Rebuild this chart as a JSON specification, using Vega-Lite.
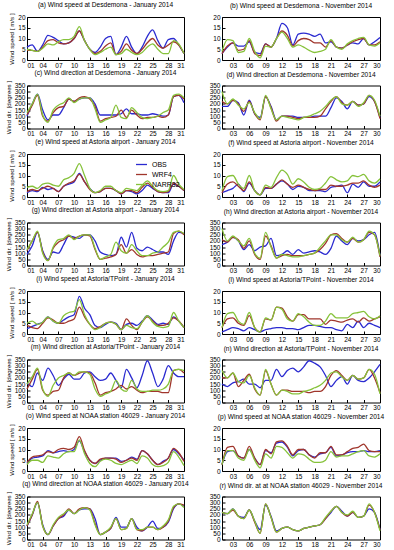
{
"$schema": "https://vega.github.io/schema/vega-lite/v6.json",
"padding": {"left": 4, "top": 1, "right": 6, "bottom": 1},
"columns": 2,
"bounds": "flush",
"align": "all",
"spacing": {"row": 25.5, "column": 37},
"resolve": {"scale": {"color": "independent"}},
"config": {
 "font": "Liberation Sans",
 "view": {"stroke": "black", "strokeWidth": 1},
 "axis": {"grid": false, "domain": false, "labelFontSize": 6.5, "labelColor": "black", "tickColor": "black", "tickSize": -3, "titleFontSize": 6.2, "titleFontWeight": "normal", "titleColor": "black", "labelPadding": 5, "titlePadding": 3, "labelOverlap": false},
 "title": {"fontSize": 6.6, "fontWeight": "normal", "offset": 0, "color": "black", "anchor": "middle", "frame": "group"},
 "line": {"strokeWidth": 1.3, "interpolate": "monotone"},
 "legend": {"labelFontSize": 7, "labelColor": "black"}
},
"datasets": {
"a": [
{"d":1,"OBS":6,"WRF4":4.5,"NARR32":5},{"d":2,"OBS":7,"WRF4":4.5,"NARR32":4.5},{"d":3,"OBS":4,"WRF4":4,"NARR32":4},{"d":4,"OBS":7,"WRF4":6,"NARR32":5.5},{"d":5,"OBS":11.5,"WRF4":9,"NARR32":7.5},{"d":6,"OBS":10.5,"WRF4":9.5,"NARR32":7},{"d":7,"OBS":9,"WRF4":8,"NARR32":8.5},{"d":8,"OBS":7.5,"WRF4":7.5,"NARR32":9.5},{"d":9,"OBS":8,"WRF4":8,"NARR32":9.5},{"d":10,"OBS":10,"WRF4":10,"NARR32":11},{"d":11,"OBS":13.5,"WRF4":13.5,"NARR32":15.5},{"d":12,"OBS":9,"WRF4":9,"NARR32":9},{"d":13,"OBS":5,"WRF4":5,"NARR32":5},{"d":14,"OBS":3.5,"WRF4":3,"NARR32":2.5},{"d":15,"OBS":6,"WRF4":4,"NARR32":3.5},{"d":16,"OBS":10,"WRF4":6.5,"NARR32":5},{"d":17,"OBS":11,"WRF4":8,"NARR32":6},{"d":18,"OBS":2.5,"WRF4":2.5,"NARR32":2.5},{"d":19,"OBS":6,"WRF4":4,"NARR32":3},{"d":20,"OBS":11,"WRF4":7.5,"NARR32":5},{"d":21,"OBS":6,"WRF4":4.5,"NARR32":3.5},{"d":22,"OBS":3,"WRF4":3,"NARR32":2.5},{"d":23,"OBS":6,"WRF4":5,"NARR32":3.5},{"d":24,"OBS":11,"WRF4":8,"NARR32":6},{"d":25,"OBS":14,"WRF4":10,"NARR32":7.5},{"d":26,"OBS":9,"WRF4":7,"NARR32":5},{"d":27,"OBS":5.5,"WRF4":5.5,"NARR32":3},{"d":28,"OBS":9.5,"WRF4":7,"NARR32":3},{"d":29,"OBS":10,"WRF4":8.5,"NARR32":9},{"d":30,"OBS":7,"WRF4":7,"NARR32":7.5},{"d":31,"OBS":3,"WRF4":3,"NARR32":3}
],
"b": [
{"d":1,"OBS":3,"WRF4":3,"NARR32":4},{"d":2,"OBS":6,"WRF4":6.5,"NARR32":9.5},{"d":3,"OBS":8,"WRF4":8,"NARR32":9},{"d":4,"OBS":6.5,"WRF4":4.5,"NARR32":3.5},{"d":5,"OBS":6.5,"WRF4":5,"NARR32":4},{"d":6,"OBS":8.5,"WRF4":9,"NARR32":10},{"d":7,"OBS":3.5,"WRF4":3,"NARR32":4},{"d":8,"OBS":3,"WRF4":2,"NARR32":1},{"d":9,"OBS":7.5,"WRF4":7.5,"NARR32":6.5},{"d":10,"OBS":6,"WRF4":6,"NARR32":6},{"d":11,"OBS":10,"WRF4":10,"NARR32":10},{"d":12,"OBS":17,"WRF4":13.5,"NARR32":13},{"d":13,"OBS":15,"WRF4":11.5,"NARR32":10},{"d":14,"OBS":7,"WRF4":6.5,"NARR32":6},{"d":15,"OBS":12,"WRF4":9,"NARR32":7},{"d":16,"OBS":12.5,"WRF4":10,"NARR32":6},{"d":17,"OBS":12,"WRF4":9.5,"NARR32":4.5},{"d":18,"OBS":11,"WRF4":8,"NARR32":3.5},{"d":19,"OBS":12,"WRF4":8,"NARR32":4},{"d":20,"OBS":8,"WRF4":6,"NARR32":5},{"d":21,"OBS":8.5,"WRF4":9,"NARR32":9.5},{"d":22,"OBS":6,"WRF4":6,"NARR32":6},{"d":23,"OBS":5.5,"WRF4":5.5,"NARR32":5},{"d":24,"OBS":7,"WRF4":7,"NARR32":7.5},{"d":25,"OBS":8,"WRF4":8.5,"NARR32":9},{"d":26,"OBS":7.5,"WRF4":9.5,"NARR32":10},{"d":27,"OBS":10,"WRF4":10,"NARR32":10.5},{"d":28,"OBS":7,"WRF4":7,"NARR32":7},{"d":29,"OBS":8.5,"WRF4":7,"NARR32":6.5},{"d":30,"OBS":10.5,"WRF4":8.5,"NARR32":8}
],
"c": [
{"d":1,"OBS":100,"WRF4":110,"NARR32":130},{"d":2,"OBS":200,"WRF4":190,"NARR32":200},{"d":3,"OBS":280,"WRF4":270,"NARR32":280},{"d":4,"OBS":150,"WRF4":100,"NARR32":110},{"d":5,"OBS":70,"WRF4":60,"NARR32":50},{"d":6,"OBS":110,"WRF4":130,"NARR32":150},{"d":7,"OBS":110,"WRF4":170,"NARR32":190},{"d":8,"OBS":170,"WRF4":180,"NARR32":210},{"d":9,"OBS":240,"WRF4":240,"NARR32":250},{"d":10,"OBS":220,"WRF4":220,"NARR32":210},{"d":11,"OBS":240,"WRF4":250,"NARR32":240},{"d":12,"OBS":250,"WRF4":260,"NARR32":250},{"d":13,"OBS":250,"WRF4":240,"NARR32":250},{"d":14,"OBS":200,"WRF4":180,"NARR32":160},{"d":15,"OBS":110,"WRF4":60,"NARR32":50},{"d":16,"OBS":110,"WRF4":80,"NARR32":70},{"d":17,"OBS":110,"WRF4":90,"NARR32":90},{"d":18,"OBS":110,"WRF4":100,"NARR32":190},{"d":19,"OBS":120,"WRF4":150,"NARR32":90},{"d":20,"OBS":160,"WRF4":90,"NARR32":80},{"d":21,"OBS":120,"WRF4":150,"NARR32":170},{"d":22,"OBS":120,"WRF4":110,"NARR32":130},{"d":23,"OBS":110,"WRF4":80,"NARR32":90},{"d":24,"OBS":110,"WRF4":90,"NARR32":80},{"d":25,"OBS":120,"WRF4":90,"NARR32":90},{"d":26,"OBS":110,"WRF4":100,"NARR32":100},{"d":27,"OBS":100,"WRF4":90,"NARR32":130},{"d":28,"OBS":110,"WRF4":110,"NARR32":150},{"d":29,"OBS":260,"WRF4":260,"NARR32":270},{"d":30,"OBS":270,"WRF4":270,"NARR32":280},{"d":31,"OBS":210,"WRF4":240,"NARR32":250}
],
"d": [
{"d":1,"OBS":180,"WRF4":220,"NARR32":300},{"d":2,"OBS":180,"WRF4":200,"NARR32":200},{"d":3,"OBS":230,"WRF4":230,"NARR32":240},{"d":4,"OBS":210,"WRF4":200,"NARR32":190},{"d":5,"OBS":110,"WRF4":140,"NARR32":160},{"d":6,"OBS":230,"WRF4":220,"NARR32":210},{"d":7,"OBS":120,"WRF4":120,"NARR32":130},{"d":8,"OBS":90,"WRF4":70,"NARR32":80},{"d":9,"OBS":260,"WRF4":260,"NARR32":270},{"d":10,"OBS":180,"WRF4":170,"NARR32":160},{"d":11,"OBS":70,"WRF4":60,"NARR32":70},{"d":12,"OBS":100,"WRF4":100,"NARR32":100},{"d":13,"OBS":100,"WRF4":100,"NARR32":90},{"d":14,"OBS":100,"WRF4":90,"NARR32":80},{"d":15,"OBS":90,"WRF4":80,"NARR32":70},{"d":16,"OBS":90,"WRF4":90,"NARR32":90},{"d":17,"OBS":90,"WRF4":90,"NARR32":100},{"d":18,"OBS":100,"WRF4":90,"NARR32":120},{"d":19,"OBS":100,"WRF4":100,"NARR32":140},{"d":20,"OBS":100,"WRF4":160,"NARR32":180},{"d":21,"OBS":170,"WRF4":220,"NARR32":230},{"d":22,"OBS":250,"WRF4":260,"NARR32":260},{"d":23,"OBS":220,"WRF4":210,"NARR32":200},{"d":24,"OBS":160,"WRF4":190,"NARR32":190},{"d":25,"OBS":220,"WRF4":220,"NARR32":220},{"d":26,"OBS":190,"WRF4":190,"NARR32":180},{"d":27,"OBS":200,"WRF4":200,"NARR32":210},{"d":28,"OBS":260,"WRF4":270,"NARR32":270},{"d":29,"OBS":220,"WRF4":220,"NARR32":230},{"d":30,"OBS":90,"WRF4":80,"NARR32":100}
],
"e": [
{"d":1,"OBS":2,"WRF4":2.5,"NARR32":4.5},{"d":2,"OBS":3,"WRF4":3.5,"NARR32":5},{"d":3,"OBS":2.5,"WRF4":3,"NARR32":4},{"d":4,"OBS":4.5,"WRF4":4,"NARR32":6},{"d":5,"OBS":3.5,"WRF4":5,"NARR32":6.5},{"d":6,"OBS":4,"WRF4":4,"NARR32":5.5},{"d":7,"OBS":2.5,"WRF4":2.5,"NARR32":5},{"d":8,"OBS":5,"WRF4":5,"NARR32":8},{"d":9,"OBS":6,"WRF4":6.5,"NARR32":9},{"d":10,"OBS":7,"WRF4":7.5,"NARR32":11},{"d":11,"OBS":11,"WRF4":10.5,"NARR32":15.5},{"d":12,"OBS":7,"WRF4":7,"NARR32":10},{"d":13,"OBS":4,"WRF4":3.5,"NARR32":4},{"d":14,"OBS":2,"WRF4":2,"NARR32":2},{"d":15,"OBS":2.5,"WRF4":2.5,"NARR32":3},{"d":16,"OBS":4,"WRF4":4,"NARR32":5},{"d":17,"OBS":4,"WRF4":4,"NARR32":5},{"d":18,"OBS":3,"WRF4":3,"NARR32":3},{"d":19,"OBS":1.5,"WRF4":1.5,"NARR32":2},{"d":20,"OBS":3,"WRF4":3,"NARR32":4},{"d":21,"OBS":2.5,"WRF4":3,"NARR32":3.5},{"d":22,"OBS":1.5,"WRF4":2,"NARR32":3},{"d":23,"OBS":3,"WRF4":4.5,"NARR32":5.5},{"d":24,"OBS":5.5,"WRF4":6.5,"NARR32":7.5},{"d":25,"OBS":4,"WRF4":4.5,"NARR32":5},{"d":26,"OBS":2.5,"WRF4":2.5,"NARR32":3},{"d":27,"OBS":2,"WRF4":2,"NARR32":2.5},{"d":28,"OBS":2,"WRF4":2.5,"NARR32":3},{"d":29,"OBS":6,"WRF4":6.5,"NARR32":10},{"d":30,"OBS":5,"WRF4":5,"NARR32":6},{"d":31,"OBS":3,"WRF4":3,"NARR32":3.5}
],
"f": [
{"d":1,"OBS":2,"WRF4":2,"NARR32":3},{"d":2,"OBS":3,"WRF4":6,"NARR32":9.5},{"d":3,"OBS":4,"WRF4":7,"NARR32":10},{"d":4,"OBS":6,"WRF4":5,"NARR32":6},{"d":5,"OBS":2.5,"WRF4":3,"NARR32":4},{"d":6,"OBS":6.5,"WRF4":7,"NARR32":10},{"d":7,"OBS":3,"WRF4":3,"NARR32":3},{"d":8,"OBS":1,"WRF4":1,"NARR32":1},{"d":9,"OBS":4,"WRF4":4.5,"NARR32":5.5},{"d":10,"OBS":4,"WRF4":4,"NARR32":4.5},{"d":11,"OBS":6,"WRF4":6,"NARR32":9},{"d":12,"OBS":7.5,"WRF4":8,"NARR32":12.5},{"d":13,"OBS":6,"WRF4":6,"NARR32":10.5},{"d":14,"OBS":3.5,"WRF4":4.5,"NARR32":6},{"d":15,"OBS":5,"WRF4":5.5,"NARR32":8.5},{"d":16,"OBS":4.5,"WRF4":4.5,"NARR32":7},{"d":17,"OBS":3,"WRF4":3.5,"NARR32":4.5},{"d":18,"OBS":3,"WRF4":3,"NARR32":3.5},{"d":19,"OBS":3,"WRF4":3.5,"NARR32":4},{"d":20,"OBS":2.5,"WRF4":3.5,"NARR32":6.5},{"d":21,"OBS":4.5,"WRF4":5.5,"NARR32":9.5},{"d":22,"OBS":5,"WRF4":5,"NARR32":8},{"d":23,"OBS":5.5,"WRF4":5,"NARR32":7},{"d":24,"OBS":2,"WRF4":5.5,"NARR32":7.5},{"d":25,"OBS":6,"WRF4":6.5,"NARR32":10},{"d":26,"OBS":4.5,"WRF4":6.5,"NARR32":9.5},{"d":27,"OBS":7,"WRF4":7.5,"NARR32":10.5},{"d":28,"OBS":5,"WRF4":5.5,"NARR32":7.5},{"d":29,"OBS":5,"WRF4":4.5,"NARR32":6.5},{"d":30,"OBS":7,"WRF4":5.5,"NARR32":8.5}
],
"g": [
{"d":1,"OBS":90,"WRF4":120,"NARR32":130},{"d":2,"OBS":160,"WRF4":200,"NARR32":200},{"d":3,"OBS":270,"WRF4":270,"NARR32":280},{"d":4,"OBS":120,"WRF4":110,"NARR32":100},{"d":5,"OBS":50,"WRF4":40,"NARR32":40},{"d":6,"OBS":110,"WRF4":140,"NARR32":150},{"d":7,"OBS":100,"WRF4":190,"NARR32":210},{"d":8,"OBS":170,"WRF4":210,"NARR32":220},{"d":9,"OBS":240,"WRF4":240,"NARR32":250},{"d":10,"OBS":230,"WRF4":220,"NARR32":210},{"d":11,"OBS":220,"WRF4":240,"NARR32":240},{"d":12,"OBS":250,"WRF4":250,"NARR32":250},{"d":13,"OBS":250,"WRF4":240,"NARR32":250},{"d":14,"OBS":200,"WRF4":130,"NARR32":140},{"d":15,"OBS":110,"WRF4":50,"NARR32":50},{"d":16,"OBS":90,"WRF4":60,"NARR32":70},{"d":17,"OBS":80,"WRF4":70,"NARR32":90},{"d":18,"OBS":90,"WRF4":90,"NARR32":190},{"d":19,"OBS":230,"WRF4":170,"NARR32":120},{"d":20,"OBS":150,"WRF4":100,"NARR32":100},{"d":21,"OBS":270,"WRF4":130,"NARR32":170},{"d":22,"OBS":140,"WRF4":90,"NARR32":120},{"d":23,"OBS":120,"WRF4":70,"NARR32":80},{"d":24,"OBS":150,"WRF4":80,"NARR32":80},{"d":25,"OBS":130,"WRF4":80,"NARR32":100},{"d":26,"OBS":110,"WRF4":90,"NARR32":110},{"d":27,"OBS":110,"WRF4":100,"NARR32":150},{"d":28,"OBS":90,"WRF4":110,"NARR32":190},{"d":29,"OBS":200,"WRF4":260,"NARR32":270},{"d":30,"OBS":270,"WRF4":280,"NARR32":280},{"d":31,"OBS":260,"WRF4":250,"NARR32":260}
],
"h": [
{"d":1,"OBS":170,"WRF4":210,"NARR32":300},{"d":2,"OBS":190,"WRF4":190,"NARR32":200},{"d":3,"OBS":230,"WRF4":230,"NARR32":240},{"d":4,"OBS":200,"WRF4":210,"NARR32":200},{"d":5,"OBS":130,"WRF4":140,"NARR32":160},{"d":6,"OBS":170,"WRF4":200,"NARR32":220},{"d":7,"OBS":120,"WRF4":90,"NARR32":100},{"d":8,"OBS":150,"WRF4":50,"NARR32":60},{"d":9,"OBS":160,"WRF4":240,"NARR32":270},{"d":10,"OBS":220,"WRF4":160,"NARR32":150},{"d":11,"OBS":80,"WRF4":60,"NARR32":60},{"d":12,"OBS":90,"WRF4":80,"NARR32":90},{"d":13,"OBS":120,"WRF4":90,"NARR32":80},{"d":14,"OBS":90,"WRF4":80,"NARR32":70},{"d":15,"OBS":130,"WRF4":80,"NARR32":70},{"d":16,"OBS":100,"WRF4":80,"NARR32":80},{"d":17,"OBS":110,"WRF4":90,"NARR32":90},{"d":18,"OBS":120,"WRF4":100,"NARR32":100},{"d":19,"OBS":110,"WRF4":130,"NARR32":150},{"d":20,"OBS":90,"WRF4":180,"NARR32":200},{"d":21,"OBS":140,"WRF4":250,"NARR32":250},{"d":22,"OBS":240,"WRF4":260,"NARR32":250},{"d":23,"OBS":200,"WRF4":220,"NARR32":210},{"d":24,"OBS":170,"WRF4":190,"NARR32":190},{"d":25,"OBS":220,"WRF4":220,"NARR32":230},{"d":26,"OBS":200,"WRF4":190,"NARR32":190},{"d":27,"OBS":210,"WRF4":210,"NARR32":210},{"d":28,"OBS":250,"WRF4":270,"NARR32":280},{"d":29,"OBS":270,"WRF4":250,"NARR32":250},{"d":30,"OBS":80,"WRF4":70,"NARR32":80}
],
"i": [
{"d":1,"OBS":2.5,"WRF4":4,"NARR32":5},{"d":2,"OBS":3.5,"WRF4":3,"NARR32":6},{"d":3,"OBS":4.5,"WRF4":2.5,"NARR32":4.5},{"d":4,"OBS":5.5,"WRF4":5,"NARR32":5.5},{"d":5,"OBS":8,"WRF4":7.5,"NARR32":8},{"d":6,"OBS":6,"WRF4":6.5,"NARR32":6},{"d":7,"OBS":5,"WRF4":5,"NARR32":5},{"d":8,"OBS":6.5,"WRF4":5,"NARR32":8.5},{"d":9,"OBS":8,"WRF4":6,"NARR32":10},{"d":10,"OBS":9,"WRF4":7,"NARR32":10.5},{"d":11,"OBS":17.5,"WRF4":12.5,"NARR32":16},{"d":12,"OBS":12,"WRF4":8,"NARR32":9},{"d":13,"OBS":9,"WRF4":4.5,"NARR32":4.5},{"d":14,"OBS":4,"WRF4":2.5,"NARR32":2},{"d":15,"OBS":3,"WRF4":3.5,"NARR32":3},{"d":16,"OBS":4.5,"WRF4":5,"NARR32":5},{"d":17,"OBS":5.5,"WRF4":5.5,"NARR32":5.5},{"d":18,"OBS":5,"WRF4":4.5,"NARR32":4.5},{"d":19,"OBS":2,"WRF4":2,"NARR32":2},{"d":20,"OBS":4.5,"WRF4":7,"NARR32":4},{"d":21,"OBS":5,"WRF4":4,"NARR32":3},{"d":22,"OBS":4,"WRF4":2,"NARR32":2.5},{"d":23,"OBS":6,"WRF4":5.5,"NARR32":5.5},{"d":24,"OBS":8.5,"WRF4":8,"NARR32":8.5},{"d":25,"OBS":6.5,"WRF4":6,"NARR32":5.5},{"d":26,"OBS":4.5,"WRF4":4,"NARR32":3.5},{"d":27,"OBS":5,"WRF4":4,"NARR32":3},{"d":28,"OBS":4.5,"WRF4":5,"NARR32":3.5},{"d":29,"OBS":8,"WRF4":7.5,"NARR32":10},{"d":30,"OBS":6,"WRF4":6,"NARR32":6},{"d":31,"OBS":3,"WRF4":3,"NARR32":3}
],
"l": [
{"d":1,"OBS":1,"WRF4":3,"NARR32":3},{"d":2,"OBS":2,"WRF4":7,"NARR32":9.5},{"d":3,"OBS":3,"WRF4":7.5,"NARR32":10},{"d":4,"OBS":2.5,"WRF4":5,"NARR32":6},{"d":5,"OBS":1.5,"WRF4":4,"NARR32":4.5},{"d":6,"OBS":3,"WRF4":8.5,"NARR32":10},{"d":7,"OBS":2,"WRF4":3,"NARR32":3},{"d":8,"OBS":1,"WRF4":1,"NARR32":1},{"d":9,"OBS":2,"WRF4":7,"NARR32":7.5},{"d":10,"OBS":2.5,"WRF4":6.5,"NARR32":6.5},{"d":11,"OBS":3,"WRF4":12.5,"NARR32":12.5},{"d":12,"OBS":3,"WRF4":12,"NARR32":11.5},{"d":13,"OBS":2.5,"WRF4":8,"NARR32":7},{"d":14,"OBS":2.5,"WRF4":6,"NARR32":6},{"d":15,"OBS":2,"WRF4":9,"NARR32":9.5},{"d":16,"OBS":3,"WRF4":9,"NARR32":8},{"d":17,"OBS":4,"WRF4":7,"NARR32":5.5},{"d":18,"OBS":4,"WRF4":7,"NARR32":4},{"d":19,"OBS":3.5,"WRF4":7,"NARR32":4},{"d":20,"OBS":3,"WRF4":4.5,"NARR32":6},{"d":21,"OBS":3,"WRF4":6.5,"NARR32":9.5},{"d":22,"OBS":2,"WRF4":6,"NARR32":7.5},{"d":23,"OBS":1.5,"WRF4":5.5,"NARR32":7.5},{"d":24,"OBS":4.5,"WRF4":6.5,"NARR32":7.5},{"d":25,"OBS":3,"WRF4":7,"NARR32":9.5},{"d":26,"OBS":6,"WRF4":5.5,"NARR32":10},{"d":27,"OBS":3,"WRF4":7.5,"NARR32":10.5},{"d":28,"OBS":5,"WRF4":6,"NARR32":8},{"d":29,"OBS":4,"WRF4":7,"NARR32":7},{"d":30,"OBS":3,"WRF4":8,"NARR32":8.5}
],
"m": [
{"d":1,"OBS":160,"WRF4":110,"NARR32":150},{"d":2,"OBS":130,"WRF4":190,"NARR32":210},{"d":3,"OBS":240,"WRF4":270,"NARR32":280},{"d":4,"OBS":180,"WRF4":100,"NARR32":110},{"d":5,"OBS":280,"WRF4":60,"NARR32":50},{"d":6,"OBS":220,"WRF4":90,"NARR32":140},{"d":7,"OBS":140,"WRF4":100,"NARR32":200},{"d":8,"OBS":190,"WRF4":200,"NARR32":220},{"d":9,"OBS":230,"WRF4":240,"NARR32":240},{"d":10,"OBS":190,"WRF4":220,"NARR32":220},{"d":11,"OBS":190,"WRF4":240,"NARR32":250},{"d":12,"OBS":240,"WRF4":250,"NARR32":250},{"d":13,"OBS":250,"WRF4":240,"NARR32":230},{"d":14,"OBS":210,"WRF4":160,"NARR32":110},{"d":15,"OBS":180,"WRF4":60,"NARR32":50},{"d":16,"OBS":190,"WRF4":80,"NARR32":70},{"d":17,"OBS":240,"WRF4":90,"NARR32":90},{"d":18,"OBS":180,"WRF4":110,"NARR32":180},{"d":19,"OBS":120,"WRF4":140,"NARR32":110},{"d":20,"OBS":270,"WRF4":110,"NARR32":90},{"d":21,"OBS":200,"WRF4":130,"NARR32":180},{"d":22,"OBS":120,"WRF4":100,"NARR32":110},{"d":23,"OBS":220,"WRF4":80,"NARR32":90},{"d":24,"OBS":340,"WRF4":90,"NARR32":90},{"d":25,"OBS":240,"WRF4":90,"NARR32":100},{"d":26,"OBS":130,"WRF4":90,"NARR32":100},{"d":27,"OBS":190,"WRF4":80,"NARR32":110},{"d":28,"OBS":300,"WRF4":80,"NARR32":150},{"d":29,"OBS":240,"WRF4":260,"NARR32":260},{"d":30,"OBS":210,"WRF4":270,"NARR32":270},{"d":31,"OBS":210,"WRF4":240,"NARR32":260}
],
"n": [
{"d":1,"OBS":150,"WRF4":200,"NARR32":260},{"d":2,"OBS":130,"WRF4":200,"NARR32":200},{"d":3,"OBS":160,"WRF4":240,"NARR32":240},{"d":4,"OBS":170,"WRF4":130,"NARR32":170},{"d":5,"OBS":190,"WRF4":180,"NARR32":160},{"d":6,"OBS":150,"WRF4":230,"NARR32":220},{"d":7,"OBS":150,"WRF4":110,"NARR32":120},{"d":8,"OBS":120,"WRF4":60,"NARR32":60},{"d":9,"OBS":180,"WRF4":260,"NARR32":270},{"d":10,"OBS":180,"WRF4":150,"NARR32":150},{"d":11,"OBS":270,"WRF4":60,"NARR32":60},{"d":12,"OBS":210,"WRF4":100,"NARR32":100},{"d":13,"OBS":260,"WRF4":100,"NARR32":90},{"d":14,"OBS":280,"WRF4":90,"NARR32":70},{"d":15,"OBS":250,"WRF4":90,"NARR32":70},{"d":16,"OBS":290,"WRF4":90,"NARR32":90},{"d":17,"OBS":340,"WRF4":80,"NARR32":100},{"d":18,"OBS":320,"WRF4":90,"NARR32":120},{"d":19,"OBS":290,"WRF4":90,"NARR32":140},{"d":20,"OBS":220,"WRF4":130,"NARR32":180},{"d":21,"OBS":130,"WRF4":220,"NARR32":240},{"d":22,"OBS":180,"WRF4":260,"NARR32":250},{"d":23,"OBS":210,"WRF4":220,"NARR32":210},{"d":24,"OBS":150,"WRF4":180,"NARR32":180},{"d":25,"OBS":220,"WRF4":220,"NARR32":220},{"d":26,"OBS":180,"WRF4":190,"NARR32":190},{"d":27,"OBS":170,"WRF4":200,"NARR32":200},{"d":28,"OBS":200,"WRF4":270,"NARR32":270},{"d":29,"OBS":250,"WRF4":200,"NARR32":230},{"d":30,"OBS":310,"WRF4":80,"NARR32":70}
],
"o": [
{"d":1,"OBS":3.5,"WRF4":4,"NARR32":3},{"d":2,"OBS":6,"WRF4":6.5,"NARR32":5},{"d":3,"OBS":6.5,"WRF4":7,"NARR32":5},{"d":4,"OBS":7,"WRF4":7.5,"NARR32":4},{"d":5,"OBS":9.5,"WRF4":9,"NARR32":7},{"d":6,"OBS":8.5,"WRF4":8.5,"NARR32":6.5},{"d":7,"OBS":9,"WRF4":10,"NARR32":6},{"d":8,"OBS":9.5,"WRF4":10.5,"NARR32":8},{"d":9,"OBS":9,"WRF4":10,"NARR32":9},{"d":10,"OBS":10,"WRF4":11,"NARR32":9},{"d":11,"OBS":14,"WRF4":16,"NARR32":14.5},{"d":12,"OBS":9,"WRF4":9.5,"NARR32":8},{"d":13,"OBS":5,"WRF4":5,"NARR32":3.5},{"d":14,"OBS":3.5,"WRF4":3.5,"NARR32":2},{"d":15,"OBS":5,"WRF4":5.5,"NARR32":4.5},{"d":16,"OBS":6,"WRF4":6,"NARR32":5.5},{"d":17,"OBS":6,"WRF4":6,"NARR32":5},{"d":18,"OBS":6,"WRF4":5.5,"NARR32":3.5},{"d":19,"OBS":4.5,"WRF4":4,"NARR32":3},{"d":20,"OBS":5,"WRF4":5,"NARR32":4},{"d":21,"OBS":6.5,"WRF4":6,"NARR32":5},{"d":22,"OBS":5.5,"WRF4":5,"NARR32":3.5},{"d":23,"OBS":9.5,"WRF4":9.5,"NARR32":7},{"d":24,"OBS":8,"WRF4":8,"NARR32":6},{"d":25,"OBS":5,"WRF4":5,"NARR32":3},{"d":26,"OBS":3,"WRF4":3,"NARR32":2},{"d":27,"OBS":4.5,"WRF4":4,"NARR32":2.5},{"d":28,"OBS":6,"WRF4":6,"NARR32":4},{"d":29,"OBS":10,"WRF4":10.5,"NARR32":9},{"d":30,"OBS":8,"WRF4":8.5,"NARR32":6.5},{"d":31,"OBS":5,"WRF4":4.5,"NARR32":2.5}
],
"p": [
{"d":1,"OBS":3,"WRF4":3,"NARR32":3},{"d":2,"OBS":9,"WRF4":11,"NARR32":9.5},{"d":3,"OBS":9.5,"WRF4":11.5,"NARR32":9.5},{"d":4,"OBS":7,"WRF4":7,"NARR32":6},{"d":5,"OBS":6,"WRF4":6,"NARR32":5},{"d":6,"OBS":10,"WRF4":11.5,"NARR32":10},{"d":7,"OBS":6,"WRF4":6,"NARR32":5},{"d":8,"OBS":3,"WRF4":3,"NARR32":1.5},{"d":9,"OBS":9.5,"WRF4":10,"NARR32":8},{"d":10,"OBS":8.5,"WRF4":8,"NARR32":6},{"d":11,"OBS":13,"WRF4":13.5,"NARR32":11.5},{"d":12,"OBS":13.5,"WRF4":14,"NARR32":11},{"d":13,"OBS":11,"WRF4":11.5,"NARR32":8.5},{"d":14,"OBS":7,"WRF4":7.5,"NARR32":6},{"d":15,"OBS":9.5,"WRF4":10,"NARR32":8},{"d":16,"OBS":10,"WRF4":10,"NARR32":7.5},{"d":17,"OBS":7.5,"WRF4":7.5,"NARR32":5.5},{"d":18,"OBS":6.5,"WRF4":6,"NARR32":4},{"d":19,"OBS":8,"WRF4":8.5,"NARR32":4},{"d":20,"OBS":8.5,"WRF4":8.5,"NARR32":5},{"d":21,"OBS":11,"WRF4":11.5,"NARR32":9},{"d":22,"OBS":7,"WRF4":7.5,"NARR32":6.5},{"d":23,"OBS":7.5,"WRF4":7.5,"NARR32":7},{"d":24,"OBS":8.5,"WRF4":9,"NARR32":7},{"d":25,"OBS":9,"WRF4":10.5,"NARR32":8},{"d":26,"OBS":9,"WRF4":11,"NARR32":9},{"d":27,"OBS":9.5,"WRF4":12.5,"NARR32":9.5},{"d":28,"OBS":9,"WRF4":9.5,"NARR32":7},{"d":29,"OBS":9,"WRF4":9,"NARR32":6.5},{"d":30,"OBS":9.5,"WRF4":9,"NARR32":8}
],
"q": [
{"d":1,"OBS":110,"WRF4":110,"NARR32":120},{"d":2,"OBS":200,"WRF4":200,"NARR32":210},{"d":3,"OBS":300,"WRF4":310,"NARR32":300},{"d":4,"OBS":120,"WRF4":110,"NARR32":110},{"d":5,"OBS":40,"WRF4":40,"NARR32":40},{"d":6,"OBS":110,"WRF4":110,"NARR32":120},{"d":7,"OBS":170,"WRF4":170,"NARR32":180},{"d":8,"OBS":190,"WRF4":200,"NARR32":210},{"d":9,"OBS":240,"WRF4":250,"NARR32":240},{"d":10,"OBS":210,"WRF4":210,"NARR32":210},{"d":11,"OBS":240,"WRF4":250,"NARR32":240},{"d":12,"OBS":250,"WRF4":260,"NARR32":260},{"d":13,"OBS":250,"WRF4":250,"NARR32":240},{"d":14,"OBS":170,"WRF4":130,"NARR32":120},{"d":15,"OBS":40,"WRF4":40,"NARR32":40},{"d":16,"OBS":60,"WRF4":60,"NARR32":60},{"d":17,"OBS":90,"WRF4":90,"NARR32":100},{"d":18,"OBS":180,"WRF4":170,"NARR32":170},{"d":19,"OBS":100,"WRF4":80,"NARR32":80},{"d":20,"OBS":100,"WRF4":90,"NARR32":90},{"d":21,"OBS":170,"WRF4":170,"NARR32":170},{"d":22,"OBS":100,"WRF4":80,"NARR32":80},{"d":23,"OBS":70,"WRF4":70,"NARR32":80},{"d":24,"OBS":100,"WRF4":100,"NARR32":100},{"d":25,"OBS":150,"WRF4":100,"NARR32":100},{"d":26,"OBS":90,"WRF4":80,"NARR32":80},{"d":27,"OBS":100,"WRF4":100,"NARR32":110},{"d":28,"OBS":140,"WRF4":150,"NARR32":160},{"d":29,"OBS":250,"WRF4":260,"NARR32":270},{"d":30,"OBS":290,"WRF4":290,"NARR32":290},{"d":31,"OBS":270,"WRF4":280,"NARR32":260}
],
"r": [
{"d":1,"OBS":220,"WRF4":220,"NARR32":220},{"d":2,"OBS":210,"WRF4":210,"NARR32":210},{"d":3,"OBS":250,"WRF4":240,"NARR32":250},{"d":4,"OBS":190,"WRF4":190,"NARR32":190},{"d":5,"OBS":180,"WRF4":170,"NARR32":170},{"d":6,"OBS":240,"WRF4":240,"NARR32":240},{"d":7,"OBS":150,"WRF4":140,"NARR32":150},{"d":8,"OBS":80,"WRF4":50,"NARR32":50},{"d":9,"OBS":280,"WRF4":290,"NARR32":290},{"d":10,"OBS":190,"WRF4":180,"NARR32":180},{"d":11,"OBS":70,"WRF4":60,"NARR32":60},{"d":12,"OBS":90,"WRF4":90,"NARR32":90},{"d":13,"OBS":100,"WRF4":100,"NARR32":100},{"d":14,"OBS":80,"WRF4":80,"NARR32":80},{"d":15,"OBS":70,"WRF4":70,"NARR32":70},{"d":16,"OBS":90,"WRF4":90,"NARR32":90},{"d":17,"OBS":100,"WRF4":100,"NARR32":100},{"d":18,"OBS":110,"WRF4":110,"NARR32":110},{"d":19,"OBS":120,"WRF4":120,"NARR32":120},{"d":20,"OBS":170,"WRF4":170,"NARR32":180},{"d":21,"OBS":220,"WRF4":230,"NARR32":230},{"d":22,"OBS":270,"WRF4":270,"NARR32":270},{"d":23,"OBS":230,"WRF4":220,"NARR32":220},{"d":24,"OBS":190,"WRF4":190,"NARR32":200},{"d":25,"OBS":220,"WRF4":220,"NARR32":230},{"d":26,"OBS":180,"WRF4":180,"NARR32":180},{"d":27,"OBS":190,"WRF4":190,"NARR32":190},{"d":28,"OBS":250,"WRF4":280,"NARR32":290},{"d":29,"OBS":220,"WRF4":220,"NARR32":220},{"d":30,"OBS":80,"WRF4":80,"NARR32":70}
]
},
"concat": [
{"title": "(a)  Wind speed at Desdemona - January 2014", "width": 157, "height": 43, "data": {"name": "a"}, "transform": [{"fold": ["OBS","WRF4","NARR32"], "as": ["s","v"]}], "mark": "line",
 "encoding": {"x": {"field": "d", "type": "quantitative", "scale": {"domain": [1,31]}, "axis": {"values": [1,4,7,10,13,16,19,22,25,28,31], "format": "02d", "title": null}},
  "y": {"field": "v", "type": "quantitative", "scale": {"domain": [0,20]}, "axis": {"values": [0,5,10,15,20], "title": "Wind speed [ m/s ]"}},
  "color": {"field": "s", "type": "nominal", "scale": {"domain": ["OBS","WRF4","NARR32"], "range": ["#2a2ad0","#a0362c","#86c23a"]}, "legend": null}}},
{"title": "(b)  Wind speed at Desdemona - November 2014", "width": 158, "height": 43, "data": {"name": "b"}, "transform": [{"fold": ["OBS","WRF4","NARR32"], "as": ["s","v"]}], "mark": "line",
 "encoding": {"x": {"field": "d", "type": "quantitative", "scale": {"domain": [1,30]}, "axis": {"values": [3,6,9,12,15,18,21,24,27,30], "format": "02d", "title": null}},
  "y": {"field": "v", "type": "quantitative", "scale": {"domain": [0,20]}, "axis": {"values": [0,5,10,15,20], "title": null}},
  "color": {"field": "s", "type": "nominal", "scale": {"domain": ["OBS","WRF4","NARR32"], "range": ["#2a2ad0","#a0362c","#86c23a"]}, "legend": null}}},
{"title": "(c)  Wind direction at Desdemona - January 2014", "width": 157, "height": 43, "data": {"name": "c"}, "transform": [{"fold": ["OBS","WRF4","NARR32"], "as": ["s","v"]}], "mark": "line",
 "encoding": {"x": {"field": "d", "type": "quantitative", "scale": {"domain": [1,31]}, "axis": {"values": [1,4,7,10,13,16,19,22,25,28,31], "format": "02d", "title": null}},
  "y": {"field": "v", "type": "quantitative", "scale": {"domain": [0,350]}, "axis": {"values": [0,50,100,150,200,250,300,350], "title": "Wind dir. [degrees ]"}},
  "color": {"field": "s", "type": "nominal", "scale": {"domain": ["OBS","WRF4","NARR32"], "range": ["#2a2ad0","#a0362c","#86c23a"]}, "legend": null}}},
{"title": "(d)  Wind direction at Desdemona - November 2014", "width": 158, "height": 43, "data": {"name": "d"}, "transform": [{"fold": ["OBS","WRF4","NARR32"], "as": ["s","v"]}], "mark": "line",
 "encoding": {"x": {"field": "d", "type": "quantitative", "scale": {"domain": [1,30]}, "axis": {"values": [3,6,9,12,15,18,21,24,27,30], "format": "02d", "title": null}},
  "y": {"field": "v", "type": "quantitative", "scale": {"domain": [0,350]}, "axis": {"values": [0,50,100,150,200,250,300,350], "title": null}},
  "color": {"field": "s", "type": "nominal", "scale": {"domain": ["OBS","WRF4","NARR32"], "range": ["#2a2ad0","#a0362c","#86c23a"]}, "legend": null}}},
{"title": "(e)  Wind speed at Astoria airport - January 2014", "width": 157, "height": 43, "data": {"name": "e"}, "transform": [{"fold": ["OBS","WRF4","NARR32"], "as": ["s","v"]}], "mark": "line",
 "encoding": {"x": {"field": "d", "type": "quantitative", "scale": {"domain": [1,31]}, "axis": {"values": [1,4,7,10,13,16,19,22,25,28,31], "format": "02d", "title": null}},
  "y": {"field": "v", "type": "quantitative", "scale": {"domain": [0,20]}, "axis": {"values": [0,5,10,15,20], "title": "Wind speed [ m/s ]"}},
  "color": {"field": "s", "type": "nominal", "scale": {"domain": ["OBS","WRF4","NARR32"], "range": ["#2a2ad0","#a0362c","#86c23a"]}, "legend": {"title": null, "orient": "top-right", "symbolType": "stroke", "symbolStrokeWidth": 2, "symbolSize": 120, "rowPadding": 0, "padding": 1, "offset": 3, "labelFontSize": 7}}}},
{"title": "(f)  Wind speed at Astoria airport - November 2014", "width": 158, "height": 43, "data": {"name": "f"}, "transform": [{"fold": ["OBS","WRF4","NARR32"], "as": ["s","v"]}], "mark": "line",
 "encoding": {"x": {"field": "d", "type": "quantitative", "scale": {"domain": [1,30]}, "axis": {"values": [3,6,9,12,15,18,21,24,27,30], "format": "02d", "title": null}},
  "y": {"field": "v", "type": "quantitative", "scale": {"domain": [0,20]}, "axis": {"values": [0,5,10,15,20], "title": null}},
  "color": {"field": "s", "type": "nominal", "scale": {"domain": ["OBS","WRF4","NARR32"], "range": ["#2a2ad0","#a0362c","#86c23a"]}, "legend": null}}},
{"title": "(g)  Wind direction at Astoria airport - January 2014", "width": 157, "height": 43, "data": {"name": "g"}, "transform": [{"fold": ["OBS","WRF4","NARR32"], "as": ["s","v"]}], "mark": "line",
 "encoding": {"x": {"field": "d", "type": "quantitative", "scale": {"domain": [1,31]}, "axis": {"values": [1,4,7,10,13,16,19,22,25,28,31], "format": "02d", "title": null}},
  "y": {"field": "v", "type": "quantitative", "scale": {"domain": [0,350]}, "axis": {"values": [0,50,100,150,200,250,300,350], "title": "Wind dir. [degrees ]"}},
  "color": {"field": "s", "type": "nominal", "scale": {"domain": ["OBS","WRF4","NARR32"], "range": ["#2a2ad0","#a0362c","#86c23a"]}, "legend": null}}},
{"title": "(h)  Wind direction at Astoria airport - November 2014", "width": 158, "height": 43, "data": {"name": "h"}, "transform": [{"fold": ["OBS","WRF4","NARR32"], "as": ["s","v"]}], "mark": "line",
 "encoding": {"x": {"field": "d", "type": "quantitative", "scale": {"domain": [1,30]}, "axis": {"values": [3,6,9,12,15,18,21,24,27,30], "format": "02d", "title": null}},
  "y": {"field": "v", "type": "quantitative", "scale": {"domain": [0,350]}, "axis": {"values": [0,50,100,150,200,250,300,350], "title": null}},
  "color": {"field": "s", "type": "nominal", "scale": {"domain": ["OBS","WRF4","NARR32"], "range": ["#2a2ad0","#a0362c","#86c23a"]}, "legend": null}}},
{"title": "(i)  Wind speed at Astoria/TPoint  - January 2014", "width": 157, "height": 43, "data": {"name": "i"}, "transform": [{"fold": ["OBS","WRF4","NARR32"], "as": ["s","v"]}], "mark": "line",
 "encoding": {"x": {"field": "d", "type": "quantitative", "scale": {"domain": [1,31]}, "axis": {"values": [1,4,7,10,13,16,19,22,25,28,31], "format": "02d", "title": null}},
  "y": {"field": "v", "type": "quantitative", "scale": {"domain": [0,20]}, "axis": {"values": [0,5,10,15,20], "title": "Wind speed [ m/s ]"}},
  "color": {"field": "s", "type": "nominal", "scale": {"domain": ["OBS","WRF4","NARR32"], "range": ["#2a2ad0","#a0362c","#86c23a"]}, "legend": null}}},
{"title": "(l)  Wind speed at Astoria/TPoint - November 2014", "width": 158, "height": 43, "data": {"name": "l"}, "transform": [{"fold": ["OBS","WRF4","NARR32"], "as": ["s","v"]}], "mark": "line",
 "encoding": {"x": {"field": "d", "type": "quantitative", "scale": {"domain": [1,30]}, "axis": {"values": [3,6,9,12,15,18,21,24,27,30], "format": "02d", "title": null}},
  "y": {"field": "v", "type": "quantitative", "scale": {"domain": [0,20]}, "axis": {"values": [0,5,10,15,20], "title": null}},
  "color": {"field": "s", "type": "nominal", "scale": {"domain": ["OBS","WRF4","NARR32"], "range": ["#2a2ad0","#a0362c","#86c23a"]}, "legend": null}}},
{"title": "(m)  Wind direction at Astoria/TPoint  - January 2014", "width": 157, "height": 43, "data": {"name": "m"}, "transform": [{"fold": ["OBS","WRF4","NARR32"], "as": ["s","v"]}], "mark": "line",
 "encoding": {"x": {"field": "d", "type": "quantitative", "scale": {"domain": [1,31]}, "axis": {"values": [1,4,7,10,13,16,19,22,25,28,31], "format": "02d", "title": null}},
  "y": {"field": "v", "type": "quantitative", "scale": {"domain": [0,350]}, "axis": {"values": [0,50,100,150,200,250,300,350], "title": "Wind dir. [degrees ]"}},
  "color": {"field": "s", "type": "nominal", "scale": {"domain": ["OBS","WRF4","NARR32"], "range": ["#2a2ad0","#a0362c","#86c23a"]}, "legend": null}}},
{"title": "(n)  Wind direction at Astoria/TPoint - November 2014", "width": 158, "height": 43, "data": {"name": "n"}, "transform": [{"fold": ["OBS","WRF4","NARR32"], "as": ["s","v"]}], "mark": "line",
 "encoding": {"x": {"field": "d", "type": "quantitative", "scale": {"domain": [1,30]}, "axis": {"values": [3,6,9,12,15,18,21,24,27,30], "format": "02d", "title": null}},
  "y": {"field": "v", "type": "quantitative", "scale": {"domain": [0,350]}, "axis": {"values": [0,50,100,150,200,250,300,350], "title": null}},
  "color": {"field": "s", "type": "nominal", "scale": {"domain": ["OBS","WRF4","NARR32"], "range": ["#2a2ad0","#a0362c","#86c23a"]}, "legend": null}}},
{"title": "(o)  Wind speed at NOAA station 46029  - January 2014", "width": 157, "height": 43, "data": {"name": "o"}, "transform": [{"fold": ["OBS","WRF4","NARR32"], "as": ["s","v"]}], "mark": "line",
 "encoding": {"x": {"field": "d", "type": "quantitative", "scale": {"domain": [1,31]}, "axis": {"values": [1,4,7,10,13,16,19,22,25,28,31], "format": "02d", "title": null}},
  "y": {"field": "v", "type": "quantitative", "scale": {"domain": [0,20]}, "axis": {"values": [0,5,10,15,20], "title": "Wind speed [ m/s ]"}},
  "color": {"field": "s", "type": "nominal", "scale": {"domain": ["OBS","WRF4","NARR32"], "range": ["#2a2ad0","#a0362c","#86c23a"]}, "legend": null}}},
{"title": "(p)  Wind speed at NOAA station 46029 - November 2014", "width": 158, "height": 43, "data": {"name": "p"}, "transform": [{"fold": ["OBS","WRF4","NARR32"], "as": ["s","v"]}], "mark": "line",
 "encoding": {"x": {"field": "d", "type": "quantitative", "scale": {"domain": [1,30]}, "axis": {"values": [3,6,9,12,15,18,21,24,27,30], "format": "02d", "title": null}},
  "y": {"field": "v", "type": "quantitative", "scale": {"domain": [0,20]}, "axis": {"values": [0,5,10,15,20], "title": null}},
  "color": {"field": "s", "type": "nominal", "scale": {"domain": ["OBS","WRF4","NARR32"], "range": ["#2a2ad0","#a0362c","#86c23a"]}, "legend": null}}},
{"title": "(q)  Wind direction at NOAA station 46029  - January 2014", "width": 157, "height": 43, "data": {"name": "q"}, "transform": [{"fold": ["OBS","WRF4","NARR32"], "as": ["s","v"]}], "mark": "line",
 "encoding": {"x": {"field": "d", "type": "quantitative", "scale": {"domain": [1,31]}, "axis": {"values": [1,4,7,10,13,16,19,22,25,28,31], "format": "02d", "title": null}},
  "y": {"field": "v", "type": "quantitative", "scale": {"domain": [0,350]}, "axis": {"values": [0,50,100,150,200,250,300,350], "title": "Wind dir. [degrees ]"}},
  "color": {"field": "s", "type": "nominal", "scale": {"domain": ["OBS","WRF4","NARR32"], "range": ["#2a2ad0","#a0362c","#86c23a"]}, "legend": null}}},
{"title": "(r)  Wind dir. at at NOAA station 46029 - November 2014", "width": 158, "height": 43, "data": {"name": "r"}, "transform": [{"fold": ["OBS","WRF4","NARR32"], "as": ["s","v"]}], "mark": "line",
 "encoding": {"x": {"field": "d", "type": "quantitative", "scale": {"domain": [1,30]}, "axis": {"values": [3,6,9,12,15,18,21,24,27,30], "format": "02d", "title": null}},
  "y": {"field": "v", "type": "quantitative", "scale": {"domain": [0,350]}, "axis": {"values": [0,50,100,150,200,250,300,350], "title": null}},
  "color": {"field": "s", "type": "nominal", "scale": {"domain": ["OBS","WRF4","NARR32"], "range": ["#2a2ad0","#a0362c","#86c23a"]}, "legend": null}}}
]
}
